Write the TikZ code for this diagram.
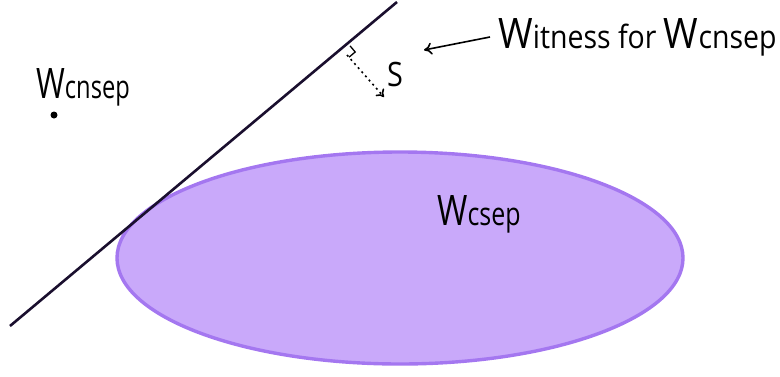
\documentclass[tikz,border=0pt]{standalone}
\usepackage{fontspec}
\setmainfont{Open Sans}
\usetikzlibrary{calc,arrows.meta}
\definecolor{lavfill}{HTML}{C9A9FA}
\definecolor{lavedge}{HTML}{A477F0}
\definecolor{inkline}{HTML}{1A0F2E}
\newcommand{\bigW}{{\fontsize{42}{44}\selectfont W}}
\begin{document}
\begin{tikzpicture}[x=1pt,y=-1pt,
  hand/.style={font=\fontsize{32}{36}\selectfont, inner sep=0pt, text=black},
  ink/.style={draw=inkline, line width=2.6pt},
  pointer/.style={draw=black, line width=1.6pt, -{To[length=8pt,width=12pt]}}]
\useasboundingbox (0,0) rectangle (780,376);
% convex set
\path[fill=lavfill, draw=lavedge, line width=3.4pt] (400,258) ellipse [x radius=283, y radius=106];
% separating line
\coordinate (L1) at (10,326);
\coordinate (L2) at (397,2);
\draw[ink] (L1) -- (L2);
% right angle and normal
\coordinate (F) at (344,51);
\coordinate (Ntip) at (384,97);
\draw[line width=1.3pt] ($(F)+(6.1,-5.1)$) -- ++(5.1,6.1) -- ++(-6.1,5.1);
\draw[line width=1.6pt, dash pattern=on 2pt off 3.5pt, -{To[length=7pt,width=11pt]}] ($(F)+(3,4)$) -- (Ntip);
% labels
\node[hand, anchor=center] (S) at (395,74) {\scalebox{0.9}[1.05]{S}};
\node[hand, anchor=base west] (wit) at (498,48) {\scalebox{0.89}[1]{\bigW itness for \bigW cnsep}};
\coordinate (Ast) at (490,37);
\draw[pointer] (Ast) -- (424,50);
\node[hand, anchor=base west] (wcn) at (36,98) {\scalebox{0.74}[1]{\bigW cnsep}};
\node[circle, fill=black, inner sep=0pt, minimum size=7pt] (pt) at (54,115) {};
\node[hand, anchor=base west] (wcs) at (437,225) {\scalebox{0.78}[1]{\bigW csep}};
\end{tikzpicture}
\end{document}
